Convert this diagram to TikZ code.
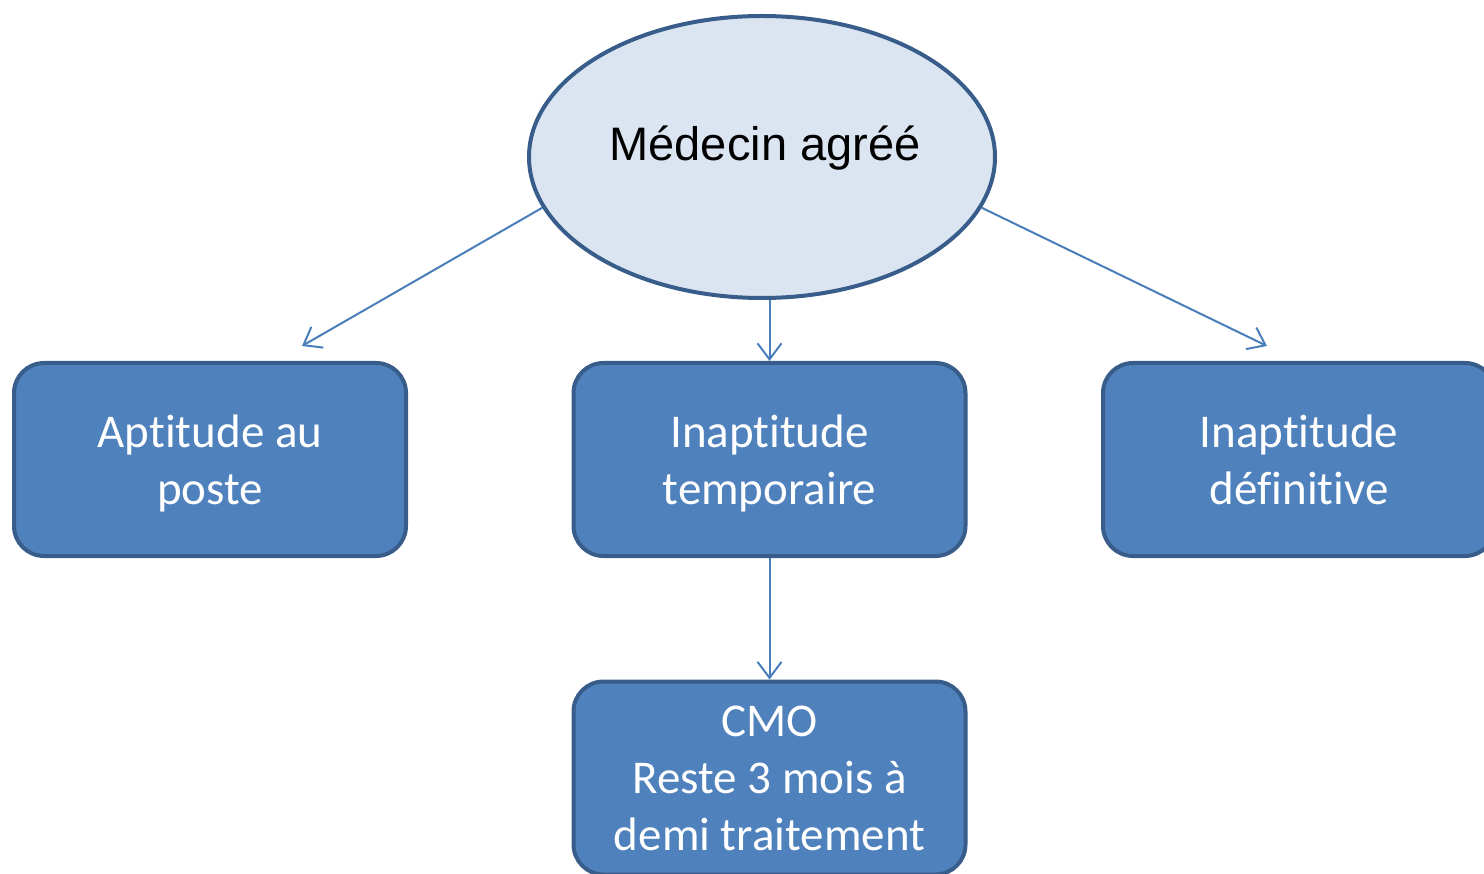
\documentclass[tikz,border=0pt]{standalone}
\usepackage{fontspec}
\setmainfont[Ligatures={NoCommon,NoRare,NoContextual},RawFeature={-liga;-clig;-calt;-dlig}]{Carlito}
\newfontfamily\arialfont{Liberation Sans}
\usetikzlibrary{shapes.geometric,arrows.meta}
\definecolor{boxfill}{HTML}{4F81BD}
\definecolor{boxline}{HTML}{385D8A}
\definecolor{ellfill}{HTML}{DBE5F1}
\definecolor{arrowcol}{HTML}{4A7EBB}
\newcommand{\nodp}[1]{\raisebox{0pt}[\height][0pt]{#1}}
\tikzset{
  box/.style={draw=boxline, fill=boxfill, line width=4pt, rounded corners=30pt,
    minimum width=392pt, minimum height=193pt, inner sep=0pt, align=center,
    text=white, font=\fontsize{47}{57}\selectfont},
  ell/.style={draw=boxline, fill=ellfill, line width=4pt, ellipse,
    minimum width=466pt, minimum height=282pt, inner sep=0pt},
  conn/.style={draw=arrowcol, line width=2pt,
    -{Straight Barb[length=16pt,width=24pt,line width=2pt]}}
}
\begin{document}
\begin{tikzpicture}[x=1pt,y=1pt]
\useasboundingbox (0,0) rectangle (1484,-874);
\begin{scope}
\clip (0,0) rectangle (1484,-874);
\node[ell] (med) at (762,-157) {};
\node[anchor=base, font=\arialfont\fontsize{47}{57}\selectfont] (medtxt) at (765,-161) {Médecin agréé};
\node[box] (apt) at (210,-459.5) {Apt\kern0pt itude au\\\nodp{poste}};
\node[box] (temp) at (769.5,-459.5) {Inapt\kern0pt itude\\\nodp{temporaire}};
\node[box] (def) at (1299,-459.5) {Inapt\kern0pt itude\\déf\kern0pt init\kern0pt ive};
\node[box] (cmo) at (769.5,-778) {CMO\\Reste 3 mois à\\demi traitement};
\coordinate (c1) at (302,-346);
\coordinate (c3) at (1267,-346);
\draw[conn] (med.193.7) -- (c1);
\draw[conn] (med.south -| temp.north) -- (temp.north);
\draw[conn] (med.-13.7) -- (c3);
\draw[conn] (temp.south) -- (cmo.north);
\end{scope}
\end{tikzpicture}
\end{document}
